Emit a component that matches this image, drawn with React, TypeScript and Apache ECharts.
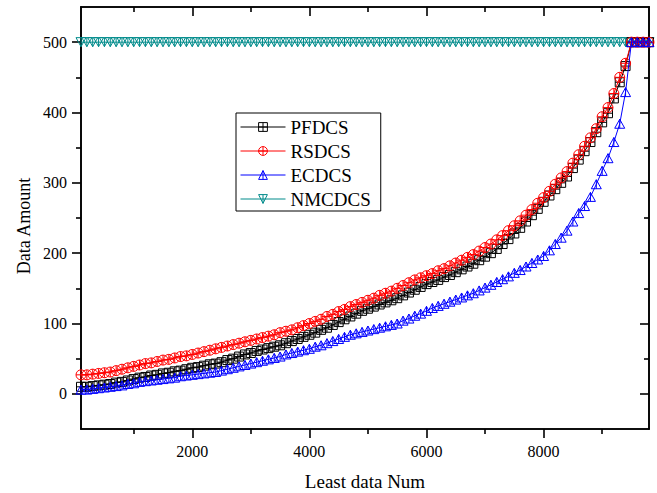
import React, { useEffect, useRef } from "react";
import * as echarts from "echarts";

const leastDataNum = [
  100, 200, 300, 400, 500, 600, 700, 800, 900, 1000,
  1100, 1200, 1300, 1400, 1500, 1600, 1700, 1800, 1900, 2000,
  2100, 2200, 2300, 2400, 2500, 2600, 2700, 2800, 2900, 3000,
  3100, 3200, 3300, 3400, 3500, 3600, 3700, 3800, 3900, 4000,
  4100, 4200, 4300, 4400, 4500, 4600, 4700, 4800, 4900, 5000,
  5100, 5200, 5300, 5400, 5500, 5600, 5700, 5800, 5900, 6000,
  6100, 6200, 6300, 6400, 6500, 6600, 6700, 6800, 6900, 7000,
  7100, 7200, 7300, 7400, 7500, 7600, 7700, 7800, 7900, 8000,
  8100, 8200, 8300, 8400, 8500, 8600, 8700, 8800, 8900, 9000,
  9100, 9200, 9300, 9400, 9500, 9600, 9700, 9800,
];

const pfdcs = [
  10, 10, 11, 12, 13, 14, 16, 17, 19, 21,
  23, 24, 26, 27, 29, 30, 32, 33, 35, 37,
  38, 40, 42, 43, 45, 48, 50, 53, 56, 58,
  61, 63, 65, 67, 69, 72, 75, 78, 81, 84,
  87, 91, 94, 98, 102, 106, 110, 114, 118, 121,
  124, 127, 130, 133, 136, 140, 144, 148, 152, 156,
  159, 162, 166, 169, 173, 177, 181, 185, 190, 195,
  200, 206, 213, 220, 228, 236, 245, 254, 263, 273,
  282, 291, 300, 309, 321, 333, 345, 358, 372, 386,
  399, 420, 443, 466, 500, 500, 500, 500,
];

const rsdcs = [
  27, 27, 28, 29, 30, 31, 33, 35, 37, 39,
  41, 43, 44, 46, 48, 49, 51, 53, 54, 56,
  58, 60, 62, 64, 66, 68, 70, 72, 74, 76,
  78, 80, 82, 84, 87, 89, 91, 94, 97, 100,
  103, 106, 110, 113, 117, 120, 124, 127, 130, 133,
  136, 140, 143, 146, 150, 154, 158, 162, 165, 168,
  171, 175, 178, 182, 186, 190, 194, 198, 203, 208,
  213, 219, 225, 232, 239, 246, 254, 262, 271, 279,
  288, 298, 307, 316, 328, 340, 352, 364, 377, 394,
  407, 427, 450, 470, 500, 500, 500, 500,
];

const ecdcs = [
  6, 6, 7, 8, 9, 10, 11, 12, 14, 15,
  17, 18, 19, 20, 21, 22, 23, 25, 26, 27,
  28, 29, 30, 31, 33, 35, 37, 39, 41, 43,
  45, 47, 49, 51, 53, 56, 58, 60, 62, 64,
  67, 69, 72, 75, 78, 81, 84, 86, 88, 90,
  92, 94, 96, 98, 100, 104, 107, 111, 114, 118,
  122, 125, 128, 131, 134, 137, 140, 143, 147, 151,
  155, 159, 163, 167, 172, 176, 181, 186, 191, 196,
  204, 213, 222, 232, 245, 257, 267, 280, 298, 317,
  335, 358, 384, 429, 500, 500, 500, 500,
];

const nmcdcs = [
  500, 500, 500, 500, 500, 500, 500, 500, 500, 500,
  500, 500, 500, 500, 500, 500, 500, 500, 500, 500,
  500, 500, 500, 500, 500, 500, 500, 500, 500, 500,
  500, 500, 500, 500, 500, 500, 500, 500, 500, 500,
  500, 500, 500, 500, 500, 500, 500, 500, 500, 500,
  500, 500, 500, 500, 500, 500, 500, 500, 500, 500,
  500, 500, 500, 500, 500, 500, 500, 500, 500, 500,
  500, 500, 500, 500, 500, 500, 500, 500, 500, 500,
  500, 500, 500, 500, 500, 500, 500, 500, 500, 500,
  500, 500, 500, 500, 500, 500, 500, 500,
];

const seriesNames = ["PFDCS", "RSDCS", "ECDCS", "NMCDCS"];
const seriesColors = ["#000000", "#ff0000", "#0000ff", "#008b8b"];

const xMajorTicks = [2000, 4000, 6000, 8000];
const xMinorTicks = [1000, 3000, 5000, 7000, 9000];
const yMajorTicks = [0, 100, 200, 300, 400, 500];
const yMinorTicks = [50, 150, 250, 350, 450];

const X_MIN = 100;
const X_MAX = 9800;
const Y_MIN = -50;
const Y_MAX = 550;

const SERIF = "Liberation Serif";

const SYM_SQUARE = "path://M0,0H10V10H0Z M5,0V10 M0,5H10";
const SYM_CIRCLE = "path://M0,5A5,5 0 1 1 10,5A5,5 0 1 1 0,5Z M5,0V10 M0,5H10";
const SYM_TRI = "path://M5,0L10,9H0Z M5,0V9";
const SYM_INVTRI = "path://M0,0H10L5,9Z M5,0V9";

export default function App() {
  const ref = useRef<HTMLDivElement>(null);

  useEffect(() => {
    document.body.style.margin = "0";
    const chart = echarts.init(ref.current!, null, { renderer: "svg" });

    const lineStyle = { color: "#000", width: 1.6 };
    const axisLine = { show: true, onZero: false, lineStyle };
    const plain = (v: number) => String(v);

    const mkAxis = (min: number, max: number) =>
      (pos: string, ticks: number[], len: number, inside: boolean, labels: boolean) => ({
        type: "value",
        position: pos,
        min,
        max,
        axisLine,
        splitLine: { show: false },
        axisTick: { show: true, inside, length: len, customValues: ticks, lineStyle },
        axisLabel: labels
          ? {
              show: true,
              customValues: ticks,
              formatter: plain,
              margin: 14,
              color: "#000",
              fontFamily: SERIF,
              fontSize: 16,
            }
          : { show: false },
      });
    const mkX = mkAxis(X_MIN, X_MAX);
    const mkY = mkAxis(Y_MIN, Y_MAX);

    const mkSeries = (idx: number, values: number[], symbol: string, size: number, z: number) => ({
      name: seriesNames[idx],
      type: "line",
      data: values.map((v, i) => [leastDataNum[i], v]),
      symbol,
      symbolSize: size,
      symbolKeepAspect: true,
      showSymbol: true,
      z,
      lineStyle: { color: seriesColors[idx], width: 1 },
      itemStyle: { color: "rgba(255,255,255,0)", borderColor: seriesColors[idx], borderWidth: 1 },
      emphasis: { disabled: true },
    });

    chart.setOption({
      animation: false,
      grid: { left: 81, right: 8, top: 7, bottom: 64, containLabel: false, outerBoundsMode: "none" },
      xAxis: [
        mkX("bottom", xMajorTicks, 9, false, true),
        mkX("bottom", xMinorTicks, 5, false, false),
        mkX("top", xMajorTicks, 9, true, false),
        mkX("top", xMinorTicks, 5, true, false),
      ],
      yAxis: [
        mkY("left", yMajorTicks, 9, false, true),
        mkY("left", yMinorTicks, 5, false, false),
        mkY("right", yMajorTicks, 9, true, false),
        mkY("right", yMinorTicks, 5, true, false),
      ],
      legend: {
        data: seriesNames,
        orient: "vertical",
        left: 236,
        top: 113,
        backgroundColor: "#fff",
        borderColor: "#000",
        borderWidth: 1,
        borderRadius: 0,
        padding: [4, 10, 2, 4],
        itemWidth: 45,
        itemHeight: 11,
        itemGap: 4,
        lineStyle: { width: 1 },
        itemStyle: { borderWidth: 1 },
        textStyle: { fontFamily: SERIF, fontSize: 19, color: "#000", lineHeight: 20 },
      },
      graphic: [
        {
          type: "text",
          x: 24,
          y: 226,
          rotation: Math.PI / 2,
          style: {
            text: "Data Amount",
            fontFamily: SERIF,
            fontSize: 18,
            fill: "#000",
            align: "center",
            verticalAlign: "middle",
          },
        },
        {
          type: "text",
          x: 365,
          y: 481,
          style: {
            text: "Least data Num",
            fontFamily: SERIF,
            fontSize: 19,
            fill: "#000",
            align: "center",
            verticalAlign: "middle",
          },
        },
      ],
      series: [
        mkSeries(3, nmcdcs, SYM_INVTRI, 10, 2),
        mkSeries(0, pfdcs, SYM_SQUARE, 9, 3),
        mkSeries(1, rsdcs, SYM_CIRCLE, 10, 4),
        mkSeries(2, ecdcs, SYM_TRI, 10, 5),
      ],
    });

    return () => chart.dispose();
  }, []);

  return <div ref={ref} style={{ width: 657, height: 493 }} />;
}
